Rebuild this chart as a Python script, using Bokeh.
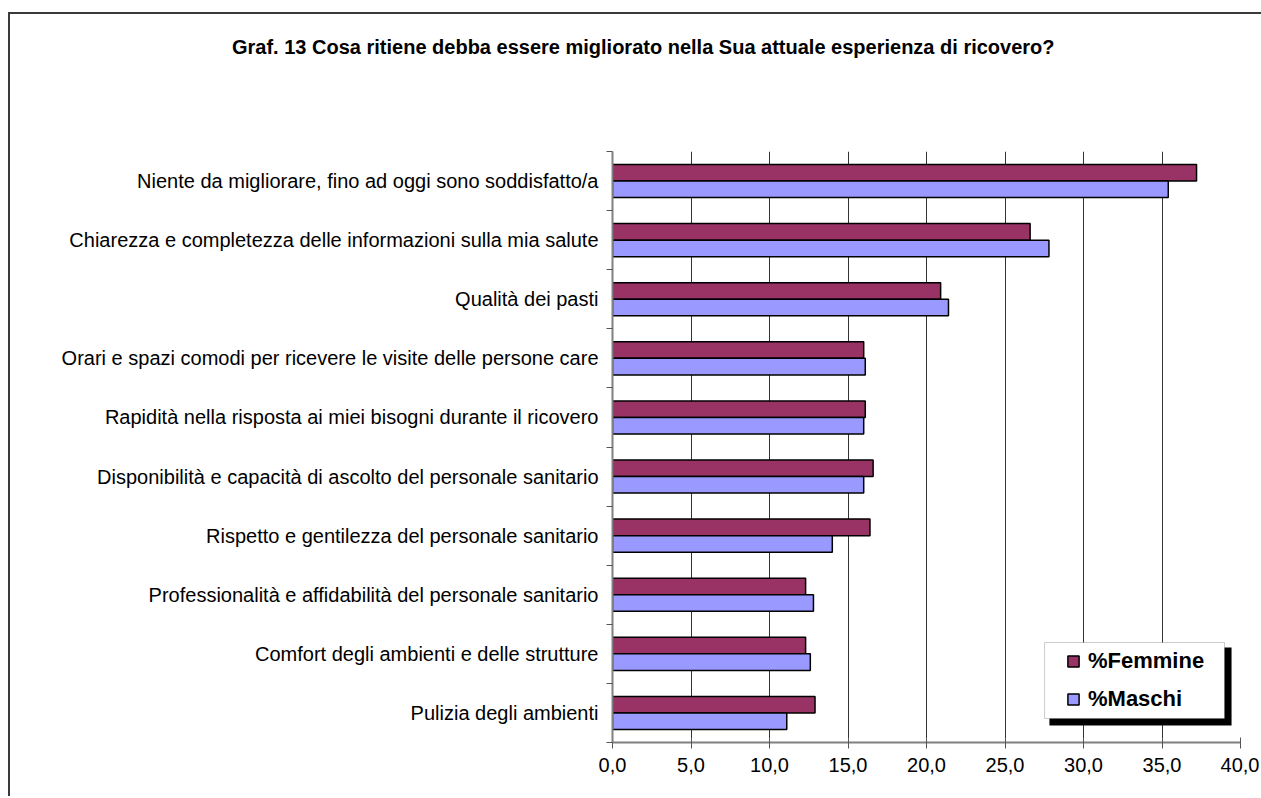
from bokeh.plotting import figure
from bokeh.models import (Range1d, LinearAxis, FixedTicker, Div,
                          Legend, LegendItem, BoxAnnotation, ColumnDataSource)
from bokeh.layouts import column
from bokeh.transform import dodge
from bokeh.embed import file_html
from bokeh.resources import INLINE

title_text = "Graf. 13 Cosa ritiene debba essere migliorato nella Sua attuale esperienza di ricovero?"

categories = [
    "Niente da migliorare, fino ad oggi sono soddisfatto/a",
    "Chiarezza e completezza delle informazioni sulla mia salute",
    "Qualità dei pasti",
    "Orari e spazi comodi per ricevere le visite delle persone care",
    "Rapidità nella risposta ai miei bisogni durante il ricovero",
    "Disponibilità e capacità di ascolto del personale sanitario",
    "Rispetto e gentilezza del personale sanitario",
    "Professionalità e affidabilità del personale sanitario",
    "Comfort degli ambienti e delle strutture",
    "Pulizia degli ambienti",
]
femmine = [37.2, 26.6, 20.9, 16.0, 16.1, 16.6, 16.4, 12.3, 12.3, 12.9]
maschi = [35.4, 27.8, 21.4, 16.1, 16.0, 16.0, 14.0, 12.8, 12.6, 11.1]
series_names = ["%Femmine", "%Maschi"]
x_ticks = [0, 5, 10, 15, 20, 25, 30, 35, 40]
x_tick_labels = ["0,0", "5,0", "10,0", "15,0", "20,0", "25,0", "30,0", "35,0", "40,0"]

FONT = "Liberation Sans"
n = len(categories)
pos = [n - i - 0.5 for i in range(n)]  # category slots, first at top

source = ColumnDataSource(dict(cat=categories, pos=pos, femmine=femmine, maschi=maschi))

title_div = Div(
    text=('<div style="padding-left:217px; padding-top:18px; font-family:\'Liberation Sans\';'
          ' font-size:20px; font-weight:bold; line-height:20px; color:black; white-space:nowrap;">'
          + title_text + '</div>'),
    width=1249, height=40,
)

p = figure(
    width=1249, height=732,
    y_range=Range1d(0, n),
    x_range=Range1d(0, 40),
    y_axis_location=None,
    output_backend="svg", toolbar_location=None, tools="",
    min_border_left=602, min_border_right=19, min_border_top=87, min_border_bottom=54,
)
p.outline_line_color = None
p.background_fill_color = "white"
p.border_fill_color = "white"

# grid
p.ygrid.grid_line_color = None
p.xgrid.ticker = FixedTicker(ticks=x_ticks)
p.xgrid.grid_line_color = "#333333"
p.xgrid.grid_line_width = 1

# x axis
xa = p.xaxis[0]
xa.ticker = FixedTicker(ticks=x_ticks)
xa.major_label_overrides = {t: l for t, l in zip(x_ticks, x_tick_labels)}
xa.axis_line_color = "#808080"
xa.axis_line_width = 2
xa.major_tick_line_color = "#555555"
xa.major_tick_line_width = 1
xa.major_tick_in = 5
xa.major_tick_out = 6
xa.minor_tick_line_color = None
xa.major_label_text_font = FONT
xa.major_label_text_font_size = "20px"
xa.major_label_text_color = "black"
xa.major_label_standoff = 9

# y axes: tick-only axis at category boundaries, then category labels
tick_axis = LinearAxis(ticker=FixedTicker(ticks=list(range(n + 1))))
tick_axis.major_label_overrides = {i: "" for i in range(n + 1)}
tick_axis.major_label_text_font_size = "0px"
tick_axis.major_label_standoff = 0
tick_axis.axis_line_color = "#808080"
tick_axis.axis_line_width = 2
tick_axis.major_tick_line_color = "#555555"
tick_axis.major_tick_in = 0
tick_axis.major_tick_out = 6
tick_axis.minor_tick_line_color = None
p.add_layout(tick_axis, "left")

cat_axis = LinearAxis(ticker=FixedTicker(ticks=pos))
cat_axis.major_label_overrides = {v: c for v, c in zip(pos, categories)}
cat_axis.axis_line_color = None
cat_axis.major_tick_line_color = None
cat_axis.minor_tick_line_color = None
cat_axis.major_label_text_font = FONT
cat_axis.major_label_text_font_size = "20px"
cat_axis.major_label_text_color = "black"
cat_axis.major_label_standoff = 2
p.add_layout(cat_axis, "left")

rf = p.hbar(y=dodge("pos", 0.14), right="femmine", left=0, height=0.28,
            source=source, fill_color="#993366", line_color="black", line_width=1.5)
rm = p.hbar(y=dodge("pos", -0.14), right="maschi", left=0, height=0.28,
            source=source, fill_color="#9999FF", line_color="black", line_width=1.5)

# legend frame: drop shadow + white box
shadow = BoxAnnotation(left=27.83, right=39.43, bottom=0.288, top=1.607,
                       fill_color="black", fill_alpha=1, line_color=None)
box = BoxAnnotation(left=27.52, right=38.98, bottom=0.406, top=1.692,
                    fill_color="white", fill_alpha=1, line_color="#555555", line_width=1)
p.add_layout(shadow)
p.add_layout(box)

legend = Legend(
    items=[LegendItem(label=series_names[0], renderers=[rf]),
           LegendItem(label=series_names[1], renderers=[rm])],
    location=(454, 30),
    border_line_color=None,
    background_fill_alpha=0,
    label_text_font=FONT, label_text_font_size="22px", label_text_font_style="bold",
    label_text_color="black",
    glyph_width=14, glyph_height=14, label_standoff=8,
    padding=10, spacing=12, margin=0, label_height=25,
)
p.add_layout(legend)

layout = column(title_div, p, spacing=0)
layout.styles = {"border-top": "2px solid #3a3a3a", "border-left": "2px solid #3a3a3a",
                 "margin-top": "12px", "margin-left": "8px"}

open("out.html", "w").write(file_html(layout, INLINE))
